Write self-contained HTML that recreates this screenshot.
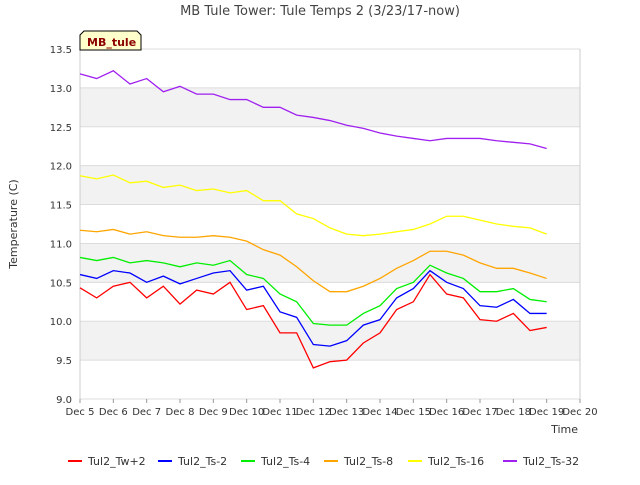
<!DOCTYPE html>
<html><head><meta charset="utf-8"><style>
body{margin:0;background:#fff;font-family:"Liberation Sans","DejaVu Sans",sans-serif;}
svg text{font-family:"DejaVu Sans","Liberation Sans",sans-serif;}
</style></head><body>
<svg id="chart" width="640" height="480">
<text x="320" y="15" text-anchor="middle" font-size="13" fill="#444">MB Tule Tower: Tule Temps 2 (3/23/17-now)</text>
<g id="bands"></g>
<g id="grid"></g>
<g id="series"></g>
<g id="ticks"></g>
<text transform="translate(17,224) rotate(-90)" text-anchor="middle" font-size="11" fill="#333">Temperature (C)</text>
<text x="578" y="433" text-anchor="end" font-size="11" fill="#333">Time</text>
<g>
<path d="M80,50 L80,35 L84,31 L137,31 L141,35 L141,50 Z" fill="#ffffcc" stroke="#000" stroke-width="1"/>
<text x="87" y="46" font-size="11" font-weight="bold" fill="#8b0000">MB_tule</text>
</g>
<g id="legend"></g>
</svg>
<script>
const days=[5,5.5,6,6.5,7,7.5,8,8.5,9,9.5,10,10.5,11,11.5,12,12.5,13,13.5,14,14.5,15,15.5,16,16.5,17,17.5,18,18.5,19];
const names=["Tul2_Tw+2","Tul2_Ts-2","Tul2_Ts-4","Tul2_Ts-8","Tul2_Ts-16","Tul2_Ts-32"];
const colors=["#ff0000","#0000ff","#00ee00","#ffa500","#ffff00","#a020f0"];
const tw2=[10.43,10.3,10.45,10.5,10.3,10.45,10.22,10.4,10.35,10.5,10.15,10.2,9.85,9.85,9.4,9.48,9.5,9.72,9.85,10.15,10.25,10.6,10.35,10.3,10.02,10.0,10.1,9.88,9.92];
const ts2=[10.6,10.55,10.65,10.62,10.5,10.58,10.48,10.55,10.62,10.65,10.4,10.45,10.12,10.05,9.7,9.68,9.75,9.95,10.02,10.3,10.42,10.65,10.5,10.42,10.2,10.18,10.28,10.1,10.1];
const ts4=[10.82,10.78,10.82,10.75,10.78,10.75,10.7,10.75,10.72,10.78,10.6,10.55,10.35,10.25,9.97,9.95,9.95,10.1,10.2,10.42,10.5,10.72,10.62,10.55,10.38,10.38,10.42,10.28,10.25];
const ts8=[11.17,11.15,11.18,11.12,11.15,11.1,11.08,11.08,11.1,11.08,11.03,10.92,10.85,10.7,10.52,10.38,10.38,10.45,10.55,10.68,10.78,10.9,10.9,10.85,10.75,10.68,10.68,10.62,10.55];
const ts16=[11.87,11.83,11.88,11.78,11.8,11.72,11.75,11.68,11.7,11.65,11.68,11.55,11.55,11.38,11.32,11.2,11.12,11.1,11.12,11.15,11.18,11.25,11.35,11.35,11.3,11.25,11.22,11.2,11.12];
const ts32=[13.18,13.12,13.22,13.05,13.12,12.95,13.02,12.92,12.92,12.85,12.85,12.75,12.75,12.65,12.62,12.58,12.52,12.48,12.42,12.38,12.35,12.32,12.35,12.35,12.35,12.32,12.3,12.28,12.22];
const yTicks=[9.0,9.5,10.0,10.5,11.0,11.5,12.0,12.5,13.0,13.5];
const xTicks=[5,6,7,8,9,10,11,12,13,14,15,16,17,18,19,20];
const X0=80,X1=580,Y0=399,Y1=49;
const sx=d=>X0+(d-5)/15*(X1-X0);
const sy=v=>Y0-(v-9)/4.5*(Y0-Y1);
const NS="http://www.w3.org/2000/svg";
function mk(t,a,p){const e=document.createElementNS(NS,t);for(const k in a)e.setAttribute(k,a[k]);p.appendChild(e);return e;}
const bands=document.getElementById('bands'),grid=document.getElementById('grid'),ticks=document.getElementById('ticks');
for(let i=0;i<yTicks.length-1;i++){
 if(i%2===1){const r=mk('rect',{x:X0,y:sy(yTicks[i+1]),width:X1-X0,height:sy(yTicks[i])-sy(yTicks[i+1]),fill:'#f2f2f2'},bands);
 
 }
}
yTicks.forEach(v=>{
 mk('line',{x1:X0,x2:X1,y1:sy(v),y2:sy(v),stroke:'#dcdcdc'},grid);
 const t=mk('text',{x:X0-8,y:sy(v)+4,'text-anchor':'end','font-size':10,fill:'#333'},ticks);t.textContent=v.toFixed(1);
 
 
});
mk('line',{x1:X0,x2:X0,y1:Y1,y2:Y0,stroke:'#ccc'},grid);
mk('line',{x1:X1,x2:X1,y1:Y1,y2:Y0,stroke:'#ccc'},grid);
xTicks.forEach(d=>{
 mk('line',{x1:sx(d),x2:sx(d),y1:Y0,y2:Y0+4,stroke:'#999'},ticks);
 const t=mk('text',{x:sx(d),y:Y0+16,'text-anchor':'middle','font-size':10,fill:'#333'},ticks);t.textContent='Dec '+d;
 
 
});
const series=[tw2,ts2,ts4,ts8,ts16,ts32];
const sg=document.getElementById('series');
series.forEach((s,i)=>{
 const p=mk('polyline',{points:s.map((v,j)=>sx(days[j])+','+sy(v)).join(' '),fill:'none',stroke:colors[i],'stroke-width':1.3},sg);
 
 
});
const lg=document.getElementById('legend');
const lx=[68,158,241,324,408,503];
names.forEach((n,i)=>{
 const g=mk('g',{},lg);
 
 
 mk('line',{x1:lx[i],x2:lx[i]+14,y1:461,y2:461,stroke:colors[i],'stroke-width':2},g);
 const t=mk('text',{x:lx[i]+20,y:465,'font-size':11,fill:'#333'},g);t.textContent=n;
});
</script>
</body></html>
